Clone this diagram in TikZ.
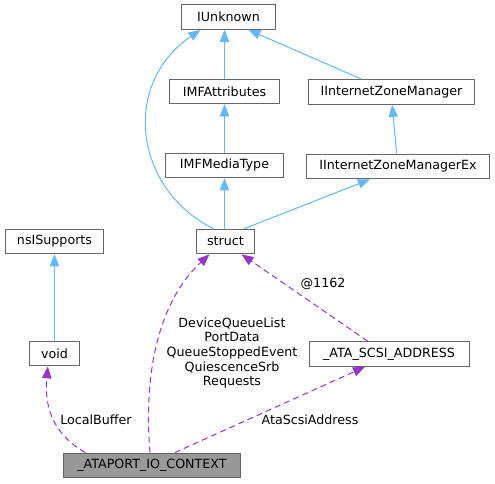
\documentclass[tikz,border=0pt]{standalone}
\usepackage{fontspec}
\setmainfont{DejaVu Sans}
\usetikzlibrary{positioning,arrows.meta}
\definecolor{EdgeBlue}{HTML}{63B8FF}
\definecolor{EdgePurple}{HTML}{9A32CD}
\definecolor{BoxGrey}{HTML}{666666}
\definecolor{MainFill}{HTML}{999999}

\begin{document}
\begin{tikzpicture}[x=0.75pt, y=-0.75pt,
  cls/.style={rectangle, draw=BoxGrey, fill=white, line width=0.75pt, minimum height=18.5pt, inner sep=0pt, font=\fontsize{9.5}{11.5}\selectfont},
  maincls/.style={cls, fill=MainFill},
  lbl/.style={font=\fontsize{9.5}{11}\selectfont, align=center, inner sep=0pt},
  inherit/.style={-{Triangle[length=9pt, width=7pt]}, line width=0.75pt, color=EdgeBlue},
  usage/.style={-{Triangle[length=9pt, width=7pt]}, line width=0.75pt, color=EdgePurple, dash pattern=on 4.5pt off 3pt}
]
  \useasboundingbox (0,0) rectangle (495,484);

  % Nodes
  \node[cls, minimum width=71pt] (unk) at (228.5,17) {IUnknown};
  \node[cls, minimum width=82pt] (attr) at (224.5,91.5) {IMFAttributes};
  \node[cls, minimum width=125pt] (izm) at (391.5,92) {IInternetZoneManager};
  \node[cls, minimum width=89pt] (mtype) at (224.5,165.5) {IMFMediaType};
  \node[cls, minimum width=137pt] (izmex) at (398,166.5) {IInternetZoneManagerEx};
  \node[cls, minimum width=44pt] (strct) at (225.5,241.5) {struct};
  \node[cls, minimum width=74pt] (nsis) at (54.5,241.5) {nsISupports};
  \node[cls, minimum width=38pt] (void) at (54.5,353.5) {void};
  \node[cls, minimum width=120pt] (scsi) at (389,354) {\_ATA\_SCSI\_ADDRESS};
  \node[maincls, minimum width=133pt] (ctx) at (152,465.5) {\_ATAPORT\_IO\_CONTEXT};

  % Inheritance
  \draw[inherit] (attr) -- (attr.north |- unk.south);
  \draw[inherit] (izm.north west) ++(54,0) -- ([xshift=-21pt]unk.south east);
  \draw[inherit] ([xshift=-9pt]strct.north) .. controls (135,190) and (120,85) .. ([xshift=-21pt]unk.south);
  \draw[inherit] (mtype) -- (attr);
  \draw[inherit] ([xshift=-1pt]izmex.north) -- ([xshift=0.5pt]izm.south);
  \draw[inherit] (strct.north -| mtype.south) -- (mtype);
  \draw[inherit] ([xshift=14pt]strct.north) -- ([xshift=-21pt]izmex.south);
  \draw[inherit] (void) -- (nsis);

  % Members
  \draw[usage] ([xshift=-50pt]ctx.north) .. controls (55,435) and (44,410) .. ([xshift=-5pt]void.south);
  \draw[usage] ([xshift=-1.5pt]ctx.north) .. controls (143,370) and (160,300) .. ([xshift=-12pt]strct.south);
  \draw[usage] ([xshift=17pt]ctx.north) -- ([xshift=-18pt]scsi.south);
  \draw[usage] ([xshift=-16pt]scsi.north) -- ([xshift=12pt]strct.south);

  % Labels
  \node[lbl] (lblist) at (232,353) {DeviceQueueList\\PortData\\QueueStoppedEvent\\QuiescenceSrb\\Requests};
  \node[lbl] (lbbuf) at (96,420) {LocalBuffer};
  \node[lbl] (lbaddr) at (310,420) {AtaScsiAddress};
  \node[lbl] (lbanon) at (323,284) {@1162};

\end{tikzpicture}
\end{document}
